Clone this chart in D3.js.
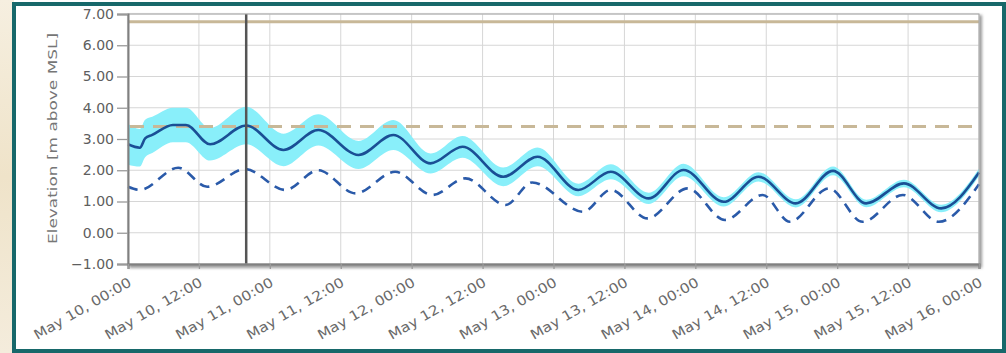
<!DOCTYPE html>
<html><head><meta charset="utf-8">
<script src="https://cdn.jsdelivr.net/npm/d3@7"></script>
<style>
body{margin:0;background:#fff;}
svg{display:block;font-family:"DejaVu Sans",Verdana,sans-serif;}
</style>
</head><body>
<svg id="c" width="1006" height="353"></svg>
<script>
// ---- data ----
const startTime = "2023-05-10T00:00";
const endTime = "2023-05-16T00:00";
// hours after start, main water level (solid) and its uncertainty half-width
const mainHours  = [0, 2, 2.9, 4.1, 7.6, 9.8, 13.9, 20, 26.3, 32.2, 39, 44.9, 51.2, 56.6, 63.5, 69.3, 76.2, 81.7, 88.1, 94, 100.8, 106.7, 113, 119.3, 124.9, 131.3, 137.6, 144];
const mainValues = [2.83, 2.72, 3.02, 3.13, 3.45, 3.45, 2.83, 3.43, 2.65, 3.29, 2.49, 3.13, 2.22, 2.75, 1.79, 2.43, 1.37, 1.95, 1.10, 2.01, 0.99, 1.79, 0.94, 1.98, 0.94, 1.58, 0.78, 1.93];
const bandHalf   = [0.65, 0.6, 0.6, 0.58, 0.55, 0.55, 0.52, 0.6, 0.52, 0.5, 0.45, 0.48, 0.32, 0.35, 0.3, 0.3, 0.2, 0.24, 0.18, 0.2, 0.15, 0.15, 0.13, 0.14, 0.12, 0.12, 0.12, 0.12];
// hours after start, dashed series
const tideHours  = [0, 2, 8.5, 13.4, 19.8, 26.6, 32.2, 38.5, 45.2, 51.5, 57.1, 63.9, 68.4, 77, 81.7, 87.9, 94.7, 101, 107.4, 112, 118.6, 124.3, 131.1, 137.2, 144];
const tideValues = [1.47, 1.37, 2.08, 1.47, 2.04, 1.37, 2.0, 1.26, 1.95, 1.21, 1.74, 0.89, 1.61, 0.67, 1.37, 0.46, 1.42, 0.41, 1.21, 0.35, 1.42, 0.35, 1.21, 0.35, 1.55];
const yTicks = [-1, 0, 1, 2, 3, 4, 5, 6, 7];
const xTickHours = [0, 12, 24, 36, 48, 60, 72, 84, 96, 108, 120, 132, 144];
const levelSolid = 6.75;
const levelDashed = 3.4;
const markerHour = 20;
const yTitle = "Elevation [m above MSL]";

// ---- layout ----
const W = 1006, H = 353;
const plot = {l: 128, r: 979, t: 14, b: 264};
const parse = d3.timeParse("%Y-%m-%dT%H:%M");
const t0 = parse(startTime), t1 = parse(endTime);
const at = h => new Date(t0.getTime() + h * 3600000);
const x = d3.scaleTime().domain([t0, t1]).range([plot.l, plot.r]);
const y = d3.scaleLinear().domain([-1, 7]).range([plot.b, plot.t]);
const fmt = d3.timeFormat("%b %d, %H:%M");

const svg = d3.select("#c");
const defs = svg.append("defs");
const blur = defs.append("filter").attr("id","sh").attr("x","-5%").attr("y","-5%").attr("width","110%").attr("height","110%");
blur.append("feGaussianBlur").attr("stdDeviation", 1.5);
const bg = defs.append("linearGradient").attr("id","bg").attr("x1",0).attr("x2",0).attr("y1",0).attr("y2",1);
bg.append("stop").attr("offset","0%").attr("stop-color","#f6efe0");
bg.append("stop").attr("offset","50%").attr("stop-color","#efe3c9");
bg.append("stop").attr("offset","100%").attr("stop-color","#f4ecdc");

svg.append("rect").attr("width", W).attr("height", H).attr("fill", "#fff");
svg.append("rect").attr("x",0).attr("y",0).attr("width",14).attr("height",H).attr("fill","url(#bg)");
// frame
svg.append("rect").attr("x",14).attr("y",4).attr("width",990).attr("height",347)
  .attr("fill","#fff").attr("stroke","#17686a").attr("stroke-width",4);

// plot shadow
svg.append("rect").attr("x",plot.l+1).attr("y",plot.t+1).attr("width",plot.r-plot.l+2).attr("height",plot.b-plot.t+3)
  .attr("fill","#9a9a9a").attr("filter","url(#sh)");
svg.append("rect").attr("x",plot.l).attr("y",plot.t).attr("width",plot.r-plot.l).attr("height",plot.b-plot.t)
  .attr("fill","#fff");

// gridlines
const g = svg.append("g");
g.selectAll(".hg").data(yTicks).join("line")
  .attr("x1", plot.l).attr("x2", plot.r).attr("y1", d=>y(d)).attr("y2", d=>y(d))
  .attr("stroke","#d6d6d6").attr("stroke-width",1);
g.selectAll(".vg").data(xTickHours).join("line")
  .attr("x1", d=>x(at(d))).attr("x2", d=>x(at(d))).attr("y1", plot.t).attr("y2", plot.b)
  .attr("stroke","#d6d6d6").attr("stroke-width",1);

// band
const mainData = mainHours.map((h,i)=>({t: at(h), v: mainValues[i], w: bandHalf[i]}));
const tideData = tideHours.map((h,i)=>({t: at(h), v: tideValues[i]}));
svg.append("path").datum(mainData)
  .attr("d", d3.area().curve(d3.curveMonotoneX).x(d=>x(d.t)).y0(d=>y(d.v-d.w)).y1(d=>y(d.v+d.w)))
  .attr("fill","#89effa");

// threshold lines
svg.append("line").attr("x1",plot.l).attr("x2",plot.r).attr("y1",y(levelSolid)).attr("y2",y(levelSolid))
  .attr("stroke","#c8b898").attr("stroke-width",3);
svg.append("line").attr("x1",plot.l+2).attr("x2",plot.r).attr("y1",y(levelDashed)).attr("y2",y(levelDashed))
  .attr("stroke","#c8b898").attr("stroke-width",3).attr("stroke-dasharray","14,9");

// dashed series
svg.append("path").datum(tideData)
  .attr("d", d3.line().curve(d3.curveMonotoneX).x(d=>x(d.t)).y(d=>y(d.v)))
  .attr("fill","none").attr("stroke","#2a5aa9").attr("stroke-width",2.6).attr("stroke-dasharray","10,7");
// main line
svg.append("path").datum(mainData)
  .attr("d", d3.line().curve(d3.curveMonotoneX).x(d=>x(d.t)).y(d=>y(d.v)))
  .attr("fill","none").attr("stroke","#1a4f95").attr("stroke-width",2.6);

// marker line
svg.append("line").attr("x1",x(at(markerHour))).attr("x2",x(at(markerHour))).attr("y1",plot.t).attr("y2",plot.b)
  .attr("stroke","#555").attr("stroke-width",2.5);

// plot border
svg.append("rect").attr("x",plot.l).attr("y",plot.t).attr("width",plot.r-plot.l).attr("height",plot.b-plot.t)
  .attr("fill","none").attr("stroke","#a8a8a8").attr("stroke-width",1);

// axes
const yAxis = d3.axisLeft(y).tickValues(yTicks).tickFormat(d3.format(".2f")).tickSize(11).tickPadding(3);
const ya = svg.append("g").attr("transform",`translate(${plot.l},0)`).call(yAxis);
ya.select(".domain").attr("stroke","#808080").attr("stroke-width",2);
ya.selectAll(".tick line").attr("stroke","#9a9a9a").attr("stroke-width",1.3);
ya.selectAll(".tick text").attr("fill","#5e5e5e").attr("font-size","14px").attr("font-family","DejaVu Sans, Verdana, sans-serif");

const xAxis = d3.axisBottom(x).tickValues(xTickHours.map(at)).tickFormat(fmt).tickSize(5).tickPadding(0);
const xa = svg.append("g").attr("transform",`translate(0,${plot.b})`).call(xAxis);
xa.select(".domain").attr("stroke","#808080").attr("stroke-width",2.2);
xa.selectAll(".tick line").attr("stroke","#9a9a9a").attr("stroke-width",1.3);
xa.selectAll(".tick text")
  .attr("fill","#6a6a6a").attr("font-size","13.5px").attr("font-family","DejaVu Sans, Verdana, sans-serif")
  .attr("text-anchor","end").attr("dy",null).attr("y",null)
  .attr("textLength",110).attr("lengthAdjust","spacingAndGlyphs")
  .attr("transform","translate(4,21) rotate(-30)");

// y title
svg.append("text").attr("transform",`translate(57,${(33+244)/2}) rotate(-90)`)
  .attr("text-anchor","middle").attr("fill","#767676").attr("font-size","12.5px")
  .attr("textLength",211).attr("lengthAdjust","spacingAndGlyphs")
  .text(yTitle);
</script>
</body></html>
